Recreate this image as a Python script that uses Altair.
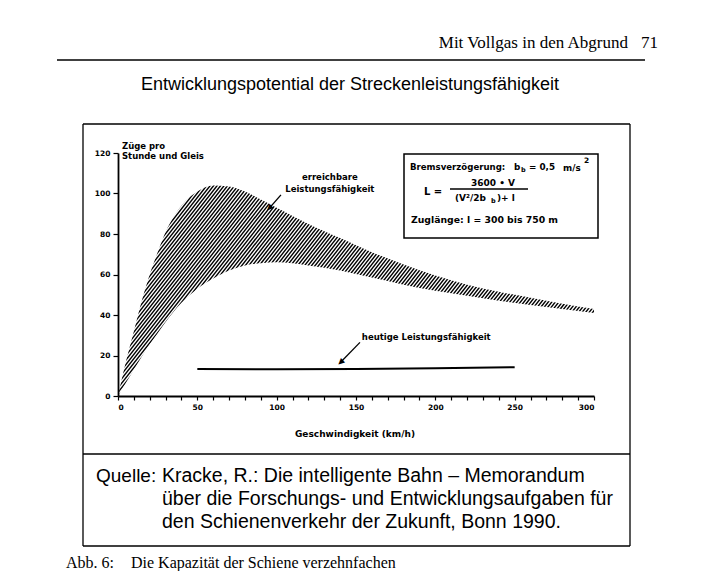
import altair as alt
import pandas as pd

# ---------------- data ----------------
speed = [0, 5, 10, 15, 20, 25, 30, 40, 50, 60, 70, 80, 90, 100, 120, 140,
         160, 180, 200, 220, 240, 260, 280, 300]
cap_l300 = [0, 17, 32, 47, 60, 71, 81, 94, 101, 104, 103.5, 101, 97, 93, 85,
            78, 71, 65, 59.5, 55, 51.5, 48.5, 45.5, 43]
cap_l750 = [0, 6.5, 13, 19.5, 25.5, 31, 36.5, 46, 53, 58, 62, 64.5, 65.5, 66,
            64.5, 62, 58.5, 55, 52, 49.5, 47, 45, 43, 41]
today_speed = [50, 100, 150, 200, 250]
today_cap = [13.3, 13.2, 13.3, 13.7, 14.2]
x_tick_values = list(range(0, 301, 10))
y_tick_values = [0, 20, 40, 60, 80, 100, 120]

# ---------------- layout ----------------
W, H = 476, 243          # plot area
OX, OY = 118, 153        # page position of plot area's top-left corner
CF = "DejaVu Sans"       # chart font
SANS = "Liberation Sans"
SERIF = "Liberation Serif"

XS = alt.Scale(domain=[0, 300], nice=False, zero=False)
YS = alt.Scale(domain=[0, 120], nice=False, zero=False)

x_axis = alt.Axis(values=x_tick_values, labelExpr="datum.value % 50 == 0 ? datum.label : ''",
                  format="d", title=None, grid=False, tickSize=4, tickWidth=1.2,
                  domainWidth=1.8, domainColor="black", tickColor="black",
                  labelColor="black", labelFont=CF, labelFontSize=7.5,
                  labelFontWeight="bold", labelPadding=3, zindex=1)
y_axis = alt.Axis(values=y_tick_values, format="d", title=None, grid=False,
                  tickSize=5, tickWidth=1.2, domainWidth=1.8, domainColor="black",
                  tickColor="black", labelColor="black", labelFont=CF,
                  labelFontSize=7.5, labelFontWeight="bold", labelPadding=3, zindex=1)


def xe(field):
    return alt.X(field, type="quantitative", scale=XS, axis=x_axis)


def ye(field):
    return alt.Y(field, type="quantitative", scale=YS, axis=y_axis)


band = pd.DataFrame({"speed": speed, "upper": cap_l300, "lower": cap_l750})
band["top"] = 120
band["zero"] = 0

# hatch texture (decoration only): diagonal strokes, masked outside the band
hatch_start = [-125 + 2.2 * i for i in range(196)]
hatch = pd.DataFrame({"x0": hatch_start,
                      "x1": [s + 120 for s in hatch_start],
                      "y0": [0] * len(hatch_start),
                      "y1": [120] * len(hatch_start)})

hatch_layer = alt.Chart(hatch).mark_rule(clip=True, strokeWidth=1.4, color="black").encode(
    x=xe("x0"), x2="x1", y=ye("y0"), y2="y1")
mask_top = alt.Chart(band).mark_area(color="white", interpolate="monotone", clip=True).encode(
    x=xe("speed"), y=ye("upper"), y2="top")
mask_bottom = alt.Chart(band).mark_area(color="white", interpolate="monotone", clip=True).encode(
    x=xe("speed"), y=ye("zero"), y2="lower")

today = pd.DataFrame({"speed": today_speed, "cap": today_cap})
today_line = alt.Chart(today).mark_line(color="black", strokeWidth=2).encode(
    x=xe("speed"), y=ye("cap"))

# annotation arrows in data coordinates (shaft + triangular head)
arr1 = pd.DataFrame({"sx": [102.7, 95.4], "sy": [99.3, 92.8]})
arr2 = pd.DataFrame({"sx": [152.5, 140.3], "sy": [26.5, 16.7]})
arrow1 = alt.Chart(arr1).mark_line(color="black", strokeWidth=1.3).encode(x=xe("sx"), y=ye("sy"))
arrow2 = alt.Chart(arr2).mark_line(color="black", strokeWidth=1.3).encode(x=xe("sx"), y=ye("sy"))


def head(sx, sy, ang):
    return alt.Chart(pd.DataFrame({"t": ["▲"], "sx": [sx], "sy": [sy]})).mark_text(
        font=CF, fontSize=8, angle=ang, align="center", baseline="middle",
        color="black").encode(x=xe("sx"), y=ye("sy"), text="t:N")


head1 = head(95.4, 92.8, 225)
head2 = head(140.3, 16.7, 228)


def dtext(text, sx, sy, size=9, align="center"):
    return alt.Chart(pd.DataFrame({"t": [text], "sx": [sx], "sy": [sy]})).mark_text(
        font=CF, fontSize=size, fontWeight="bold", align=align, baseline="middle",
        color="black").encode(x=xe("sx"), y=ye("sy"), text="t:N")


ann = [
    dtext("erreichbare", 133.5, 108.3, 8.5),
    dtext("Leistungsfähigkeit", 133.5, 102.4, 8.5),
    dtext("heutige Leistungsfähigkeit", 153.7, 29.1, 8.5, "left"),
]


def ptext(text, x, y, size, font=CF, align="left", weight="bold", baseline="middle"):
    return alt.Chart(pd.DataFrame({"t": [text]})).mark_text(
        font=font, fontSize=size, fontWeight=weight, align=align, baseline=baseline,
        color="black").encode(x=alt.value(x - OX), y=alt.value(y - OY), text="t:N")


def pline(x1, y1, x2, y2, w=1.3):
    return alt.Chart(pd.DataFrame({"a": [0]})).mark_rule(color="black", strokeWidth=w).encode(
        x=alt.value(x1 - OX), x2=alt.value(x2 - OX), y=alt.value(y1 - OY), y2=alt.value(y2 - OY))


page = [
    ptext("Mit Vollgas in den Abgrund", 628, 43, 17, SERIF, "right", "normal"),
    ptext("71", 641, 43, 17, SERIF, "left", "normal"),
    pline(57, 60, 645, 60, 1.5),
    ptext("Entwicklungspotential der Streckenleistungsfähigkeit", 350, 85, 18, SANS, "center", "normal"),
    # outer frame
    pline(83, 124, 630, 124, 1.3),
    pline(83, 124, 83, 546, 1.3),
    pline(630, 124, 630, 546, 1.3),
    pline(83, 546, 630, 546, 1.3),
    pline(83, 454, 630, 454, 1.3),
    # source
    ptext("Quelle:", 96, 476, 19, SANS, "left", "normal"),
    ptext("Kracke, R.: Die intelligente Bahn – Memorandum", 162, 476, 19.5, SANS, "left", "normal"),
    ptext("über die Forschungs- und Entwicklungsaufgaben für", 162, 499, 19.5, SANS, "left", "normal"),
    ptext("den Schienenverkehr der Zukunft, Bonn 1990.", 162, 522, 19.5, SANS, "left", "normal"),
    ptext("Abb. 6:", 66, 563, 16, SERIF, "left", "normal"),
    ptext("Die Kapazität der Schiene verzehnfachen", 131, 563, 16, SERIF, "left", "normal"),
    # axis texts
    ptext("Züge pro", 122, 146, 8.5),
    ptext("Stunde und Gleis", 122, 156, 8.5),
    ptext("Geschwindigkeit (km/h)", 355, 434, 9, CF, "center"),
]

legend_box = alt.Chart(pd.DataFrame({"a": [0]})).mark_rect(
    fill="white", stroke="black", strokeWidth=1.5).encode(
    x=alt.value(404 - OX), x2=alt.value(598 - OX), y=alt.value(154 - OY), y2=alt.value(238 - OY))

legend = [
    legend_box,
    ptext("Bremsverzögerung:", 410, 167, 8.6),
    ptext("b", 514, 167, 8.8),
    ptext("b", 521, 170, 6.5),
    ptext("= 0,5", 529, 167, 8.8),
    ptext("m/s", 563, 168, 8.8),
    ptext("2", 584, 161, 7.5),
    ptext("L =", 424, 192, 10),
    ptext("3600 • V", 493, 183, 9, CF, "center"),
    pline(450, 189, 528, 189, 1.3),
    ptext("(V²/2b", 455, 198, 9),
    ptext("b", 491, 201, 6.5),
    ptext(")+ l", 497, 198, 9),
    ptext("Zuglänge: l = 300 bis 750 m", 411, 220, 9.3),
]

chart = alt.layer(
    hatch_layer, mask_top, mask_bottom, today_line,
    arrow1, arrow2, head1, head2, *ann, *page, *legend
).properties(
    width=W, height=H,
    autosize=alt.AutoSizeParams(type="none"),
    padding={"left": OX - 8, "top": OY - 8, "right": 100, "bottom": 175},
    background="white",
).configure_view(stroke=None)

chart.save("out.html", embed_options={"renderer": "svg", "actions": False})
